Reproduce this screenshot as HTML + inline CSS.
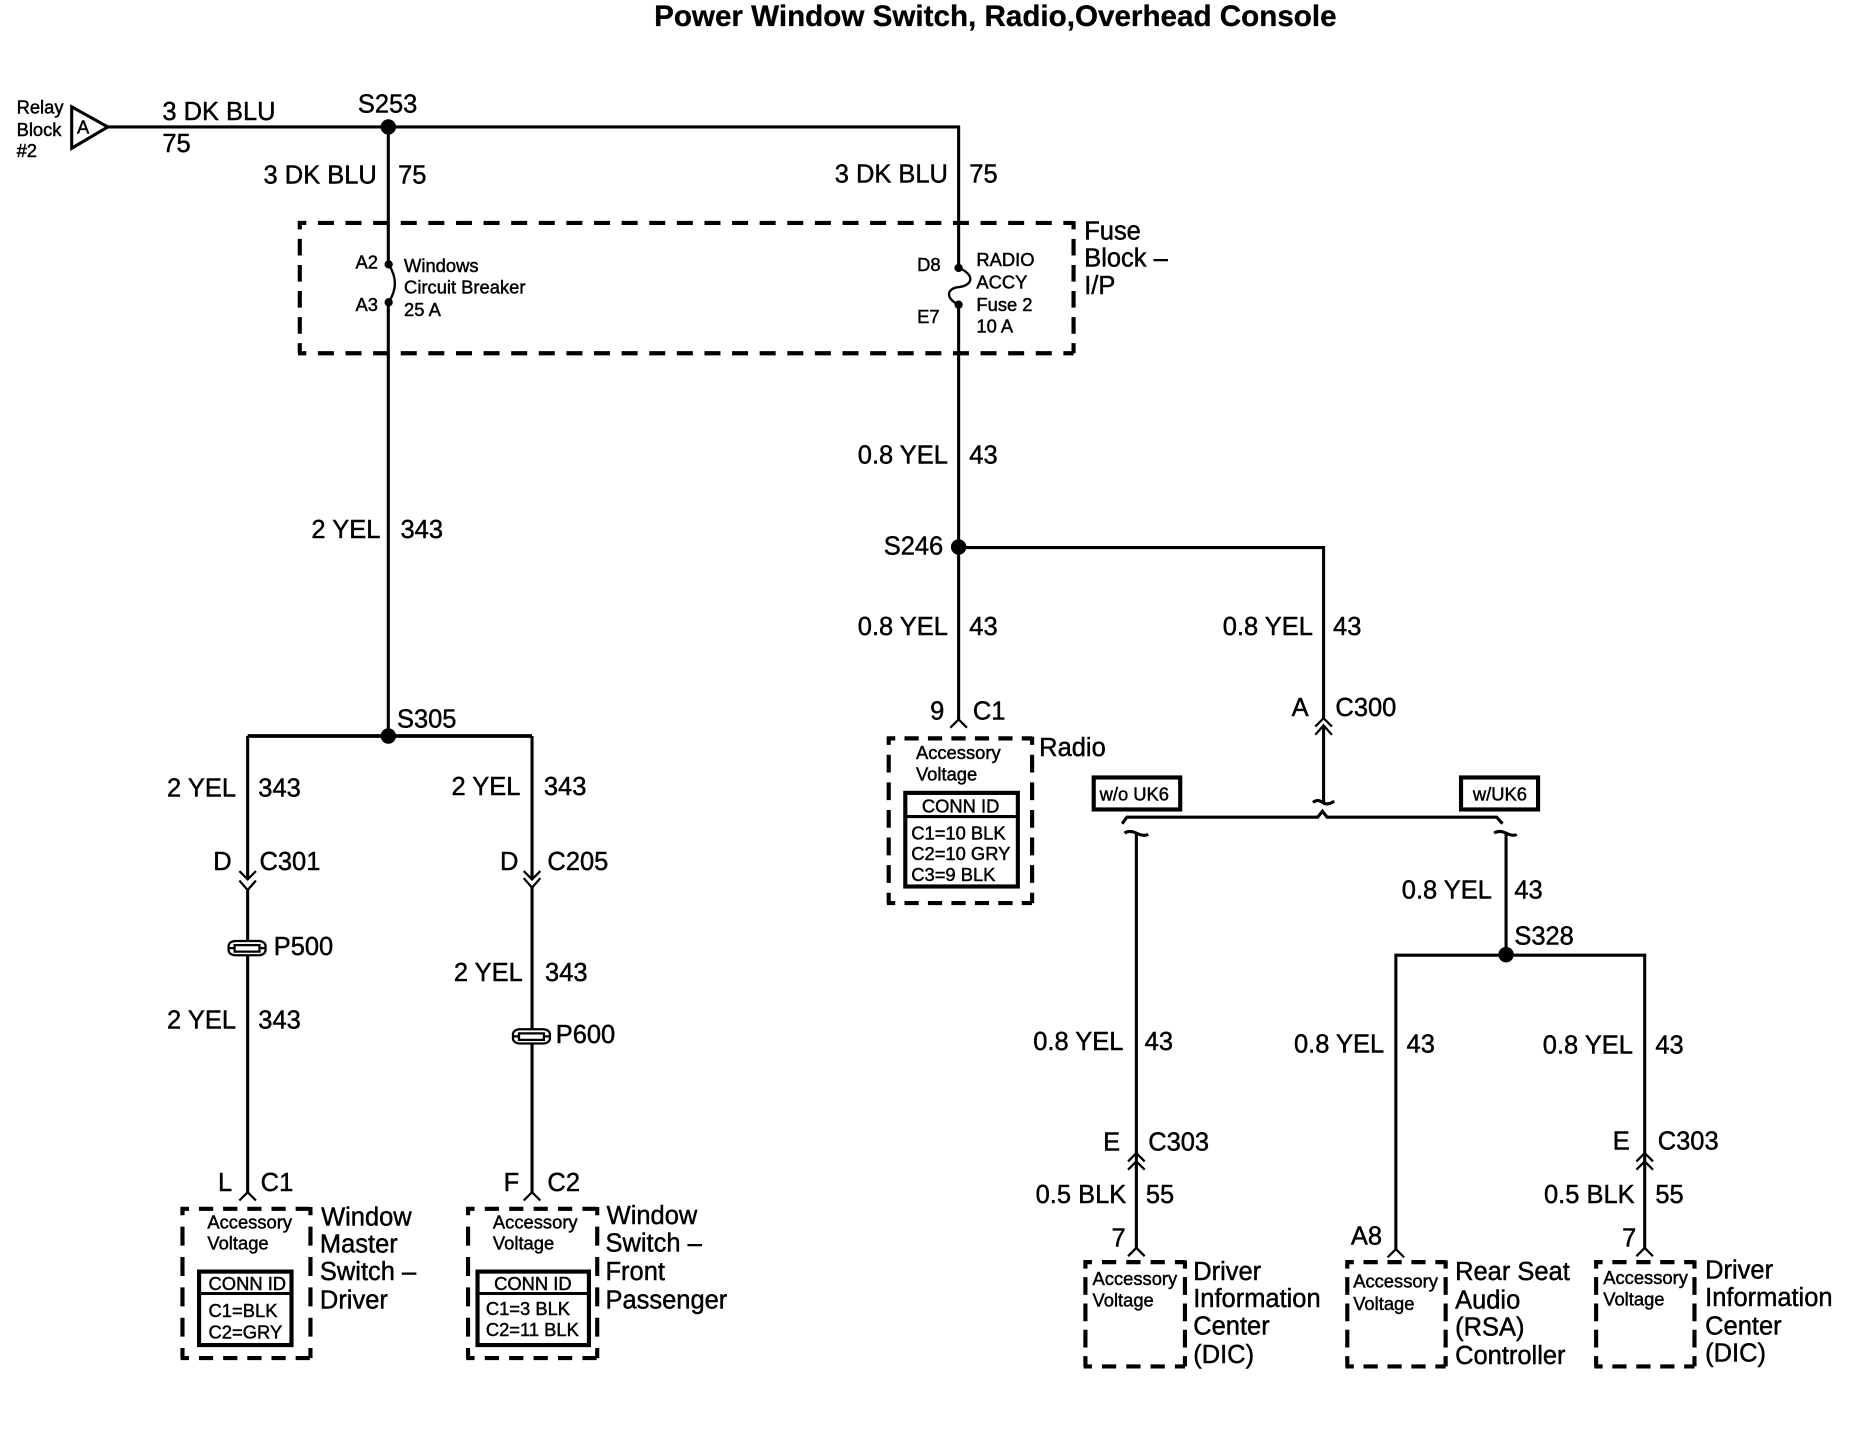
<!DOCTYPE html>
<html><head><meta charset="utf-8"><style>
html,body{margin:0;padding:0;background:#fff}
svg{display:block}
text{font-family:"Liberation Sans",sans-serif;fill:#000;dominant-baseline:central;stroke:#000;stroke-width:.38}
.l{font-size:21.5px}.s{font-size:15.5px}.e{text-anchor:end}
.t{font-size:25px;font-weight:bold;text-anchor:middle;stroke-width:.25}
.w{fill:none;stroke:#000;stroke-width:2.6}
.c{fill:none;stroke:#000;stroke-width:1.9}
.d{fill:none;stroke:#000;stroke-width:3.5}
.b{fill:none;stroke:#000;stroke-width:3.5}
</style></head><body>
<svg xmlns="http://www.w3.org/2000/svg" width="1858" height="1440" viewBox="0 0 1568 1215">
<text class="t" x="840" y="14">Power Window Switch, Radio,Overhead Console</text>

<!-- wires -->
<path class="w" d="M91 107H809V226M809 257V607"/>
<path class="w" d="M327.700 107V223M327.700 255V621"/>
<path class="w" d="M809 462H1117V606"/>
<path class="w" d="M1117 612V677"/>
<path class="w" style="stroke-width:3.2" d="M209 621H449"/>
<path class="w" d="M209 621V741M209 750V794M209 806V1006"/>
<path class="w" d="M449 621V741M449 748V868.500M449 880.500V1006"/>
<path class="w" d="M959 704V1053"/>
<path class="w" d="M1271 704V806"/>
<path class="w" d="M1178 1054V806H1388V1053"/>
<path class="w" d="M947 695L951 689.500H1112L1116 684.500L1120 689.500H1263L1268 695"/>
<path class="w" d="M1108 677Q1112 674 1116 677T1126 676"/>
<path class="w" d="M949 703Q953 700 959 703T969 704"/>
<path class="w" d="M1261 703Q1265 700 1271 703T1280 704"/>

<!-- fuse and breaker -->
<path class="w" style="stroke-width:2" d="M328 223C335 234 335 244 328 255"/>
<path class="w" style="stroke-width:2" d="M809 226C822 231 822 240 810 242C798 243 798 252 809 257"/>
<circle cx="327.700" cy="107" r="6.500"/><circle cx="327.700" cy="621" r="6.500"/><circle cx="809" cy="461.500" r="6.500"/><circle cx="1271" cy="805.500" r="6.500"/>
<circle cx="328" cy="223" r="3.500"/><circle cx="328" cy="255" r="3.500"/><circle cx="809" cy="226" r="3.500"/><circle cx="809" cy="257" r="3.500"/>

<!-- relay terminal -->
<path class="w" d="M60.500 90L91 107L60.500 125Z"/>

<!-- chevrons -->
<path class="c" d="M202 735L209 742L216 735M202 743L209 751L216 743"/>
<path class="c" d="M442 735L449 742L456 735M442 741L449 749L456 741"/>
<path class="c" d="M1110 613L1117 606L1124 613M1110 620L1117 612L1124 620"/>
<path class="c" d="M952 980L959 973L966 980M952 987L959 980L966 987"/>
<path class="c" d="M1381 980L1388 973L1395 980M1381 987L1388 980L1395 987"/>
<path class="c" d="M202 1013L209 1006L216 1013"/>
<path class="c" d="M442 1013L449 1006L456 1013"/>
<path class="c" d="M802 614L809 607L816 614"/>
<path class="c" d="M952 1060L959 1053L966 1060"/>
<path class="c" d="M1171 1061L1178 1054L1185 1061"/>
<path class="c" d="M1381 1060L1388 1053L1395 1060"/>

<!-- splice packs -->
<path class="c" d="M198 794H219Q225 795 224 800Q225 805 219 806H198Q192 805 193 800Q192 795 198 794ZM198 797.500H219V803H198ZM193 800H198M219 800H224"/>
<path class="c" transform="translate(240 74.500)" d="M198 794H219Q225 795 224 800Q225 805 219 806H198Q192 805 193 800Q192 795 198 794ZM198 797.500H219V803H198ZM193 800H198M219 800H224"/>

<!-- dashed boxes -->
<path class="d" style="stroke-dasharray:13.5 9.8;stroke-dashoffset:6.5" d="M251.500 188H906M251.500 298H906"/>
<path class="d" style="stroke-dasharray:14 8;stroke-dashoffset:7" d="M253 186.500V298M906 186.500V298"/>
<path class="d" style="stroke-dasharray:12 8.4;stroke-dashoffset:5" d="M152.500 1020H262M152.500 1146H262"/>
<path class="d" style="stroke-dasharray:16 9.6;stroke-dashoffset:9" d="M154 1018.500V1146M262 1018.500V1146"/>
<path class="d" style="stroke-dasharray:12 8.6;stroke-dashoffset:5" d="M393.500 1020H504M393.500 1146H504"/>
<path class="d" style="stroke-dasharray:16 9.6;stroke-dashoffset:9" d="M395 1018.500V1146M504 1018.500V1146"/>
<path class="d" style="stroke-dasharray:12 7.8;stroke-dashoffset:5" d="M748.500 623H871M748.500 762H871"/>
<path class="d" style="stroke-dasharray:15 8.3;stroke-dashoffset:8" d="M750 621.500V762M871 621.500V762"/>
<path class="d" style="stroke-dasharray:12 8.5;stroke-dashoffset:5" d="M914.500 1065H1000M914.500 1153H1000"/>
<path class="d" style="stroke-dasharray:15 7.200;stroke-dashoffset:8" d="M916 1063.500V1153M1000 1063.500V1153"/>
<path class="d" style="stroke-dasharray:12 8.2;stroke-dashoffset:5" d="M1135.500 1065H1220M1135.500 1153H1220"/>
<path class="d" style="stroke-dasharray:15 7.200;stroke-dashoffset:8" d="M1137 1063.500V1153M1220 1063.500V1153"/>
<path class="d" style="stroke-dasharray:12 8.2;stroke-dashoffset:5" d="M1345.500 1065H1430M1345.500 1153H1430"/>
<path class="d" style="stroke-dasharray:15 7.200;stroke-dashoffset:8" d="M1347 1063.500V1153M1430 1063.500V1153"/>

<!-- solid boxes -->
<rect class="b" x="168" y="1073" width="78" height="62"/><path class="w" d="M168 1091.500H246"/>
<rect class="b" x="403" y="1073" width="94" height="62"/><path class="w" d="M403 1091.500H497"/>
<rect class="b" x="764" y="669" width="95" height="79"/><path class="w" d="M764 689H859"/>
<rect class="b" x="923" y="656" width="73" height="27"/>
<rect class="b" x="1233" y="656" width="65" height="27"/>

<!-- small labels -->
<g class="s">
<text x="14" y="90">Relay</text><text x="14" y="109">Block</text><text x="14" y="127">#2</text>
<text x="65" y="107">A</text>
<text x="300" y="221">A2</text><text x="300" y="257">A3</text>
<text x="341" y="224">Windows</text><text x="341" y="242">Circuit Breaker</text><text x="341" y="261">25 A</text>
<text x="774" y="223">D8</text><text x="774" y="267">E7</text>
<text x="824" y="219">RADIO</text><text x="824" y="238">ACCY</text><text x="824" y="257">Fuse 2</text><text x="824" y="275">10 A</text>
<text x="175" y="1031">Accessory</text><text x="175" y="1049">Voltage</text>
<text x="416" y="1031">Accessory</text><text x="416" y="1049">Voltage</text>
<text x="176" y="1083">CONN ID</text><text x="176" y="1106">C1=BLK</text><text x="176" y="1124">C2=GRY</text>
<text x="417" y="1083">CONN ID</text><text x="410" y="1104">C1=3 BLK</text><text x="410" y="1122">C2=11 BLK</text>
<text x="773" y="635">Accessory</text><text x="773" y="653">Voltage</text>
<text x="778" y="680">CONN ID</text><text x="769" y="703">C1=10 BLK</text><text x="769" y="720">C2=10 GRY</text><text x="769" y="738">C3=9 BLK</text>
<text x="928" y="670">w/o UK6</text><text x="1243" y="670">w/UK6</text>
<text x="922" y="1079">Accessory</text><text x="922" y="1097">Voltage</text>
<text x="1142" y="1081">Accessory</text><text x="1142" y="1100">Voltage</text>
<text x="1353" y="1078">Accessory</text><text x="1353" y="1096">Voltage</text>
</g>

<!-- large labels -->
<g class="l" transform="translate(0 .2)">
<text x="137" y="94">3 DK BLU</text><text x="137" y="121">75</text><text x="302" y="88">S253</text>
<text class="e" x="318" y="148">3 DK BLU</text><text x="336" y="148">75</text>
<text class="e" x="800" y="147">3 DK BLU</text><text x="818" y="147">75</text>
<text x="915" y="195">Fuse</text><text x="915" y="218">Block –</text><text x="915" y="241">I/P</text>
<text class="e" x="321" y="447">2 YEL</text><text x="338" y="447">343</text>
<text class="e" x="800" y="384">0.8 YEL</text><text x="818" y="384">43</text>
<text class="e" x="796" y="461">S246</text>
<text class="e" x="800" y="529">0.8 YEL</text><text x="818" y="529">43</text>
<text class="e" x="1108" y="529">0.8 YEL</text><text x="1125" y="529">43</text>
<text x="785" y="600">9</text><text x="821" y="600">C1</text>
<text x="1090" y="597">A</text><text x="1127" y="597">C300</text>
<text x="335" y="607">S305</text>
<text x="141" y="665">2 YEL</text><text x="218" y="665">343</text>
<text x="381" y="664">2 YEL</text><text x="459" y="664">343</text>
<text x="180" y="727">D</text><text x="219" y="727">C301</text>
<text x="422" y="727">D</text><text x="462" y="727">C205</text>
<text x="231" y="799">P500</text><text x="469" y="873">P600</text>
<text x="141" y="861">2 YEL</text><text x="218" y="861">343</text>
<text x="383" y="821">2 YEL</text><text x="460" y="821">343</text>
<text x="184" y="998">L</text><text x="220" y="998">C1</text>
<text x="425" y="998">F</text><text x="462" y="998">C2</text>
<text x="271" y="1027">Window</text><text x="270" y="1050">Master</text><text x="270" y="1073">Switch –</text><text x="270" y="1097">Driver</text>
<text x="512" y="1026">Window</text><text x="511" y="1049">Switch –</text><text x="511" y="1073">Front</text><text x="511" y="1097">Passenger</text>
<text x="877" y="631">Radio</text>
<text x="1183" y="751">0.8 YEL</text><text x="1278" y="751">43</text><text x="1278" y="790">S328</text>
<text x="872" y="879">0.8 YEL</text><text x="966" y="879">43</text>
<text x="1092" y="881">0.8 YEL</text><text x="1187" y="881">43</text>
<text x="1302" y="882">0.8 YEL</text><text x="1397" y="882">43</text>
<text x="931" y="964">E</text><text x="969" y="964">C303</text>
<text x="1361" y="963">E</text><text x="1399" y="963">C303</text>
<text x="874" y="1008">0.5 BLK</text><text x="967" y="1008">55</text>
<text x="1303" y="1008">0.5 BLK</text><text x="1397" y="1008">55</text>
<text x="938" y="1045">7</text><text x="1140" y="1043">A8</text><text x="1369" y="1045">7</text>
<text x="1007" y="1073">Driver</text><text x="1007" y="1096">Information</text><text x="1007" y="1119">Center</text><text x="1007" y="1143">(DIC)</text>
<text x="1228" y="1073">Rear Seat</text><text x="1228" y="1097">Audio</text><text x="1228" y="1120">(RSA)</text><text x="1228" y="1144">Controller</text>
<text x="1439" y="1072">Driver</text><text x="1439" y="1095">Information</text><text x="1439" y="1119">Center</text><text x="1439" y="1142">(DIC)</text>
</g>
</svg>
</body></html>
